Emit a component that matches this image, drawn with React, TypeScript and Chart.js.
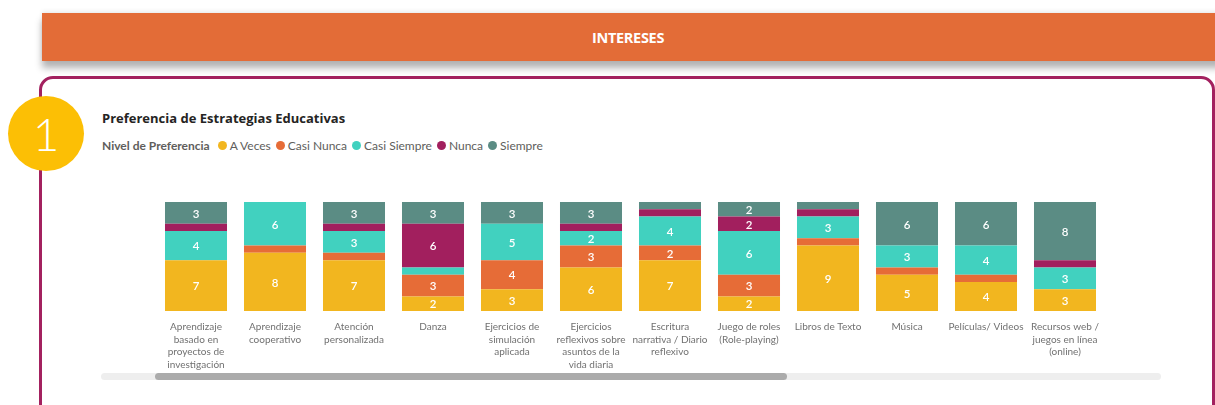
import React, { useEffect, useRef } from "react";
import { Chart, registerables } from "chart.js";

Chart.register(...registerables);

const categories: (string | string[])[] = [
  ["Aprendizaje", "basado en", "proyectos de", "investigación"],
  ["Aprendizaje", "cooperativo"],
  ["Atención", "personalizada"],
  "Danza",
  ["Ejercicios de", "simulación", "aplicada"],
  ["Ejercicios", "reflexivos sobre", "asuntos de la", "vida diaria"],
  ["Escritura", "narrativa / Diario", "reflexivo"],
  ["Juego de roles", "(Role-playing)"],
  "Libros de Texto",
  "Música",
  "Películas/ Videos",
  ["Recursos web /", "juegos en línea", "(online)"],
];

const aVeces = [7, 8, 7, 2, 3, 6, 7, 2, 9, 5, 4, 3];
const casiNunca = [0, 1, 1, 3, 4, 3, 2, 3, 1, 1, 1, 0];
const casiSiempre = [4, 6, 3, 1, 5, 2, 4, 6, 3, 3, 4, 3];
const nunca = [1, 0, 1, 6, 0, 1, 1, 2, 1, 0, 0, 1];
const siempre = [3, 0, 3, 3, 3, 3, 1, 2, 1, 6, 6, 8];

const seriesNames = ["A Veces", "Casi Nunca", "Casi Siempre", "Nunca", "Siempre"];
const seriesColors = ["#F2B61F", "#E66C37", "#41D1BF", "#A21F5E", "#5B8C84"];

const FONT = "'Segoe UI', Lato, 'Open Sans', sans-serif";

const labelPlugin = {
  id: "barLabels",
  afterDatasetsDraw(chart: any) {
    const ctx = chart.ctx;
    ctx.save();
    ctx.font = `600 11.5px ${FONT}`;
    ctx.fillStyle = "#FFFFFF";
    ctx.textAlign = "center";
    ctx.textBaseline = "middle";
    chart.data.datasets.forEach((ds: any, di: number) => {
      const meta = chart.getDatasetMeta(di);
      meta.data.forEach((el: any, i: number) => {
        const v = ds.data[i];
        if (v >= 2) {
          const y = (el.y + el.base) / 2;
          ctx.fillText(String(v), el.x, y + 1);
        }
      });
    });
    ctx.restore();
  },
};

export default function App() {
  const ref = useRef<HTMLCanvasElement>(null);

  useEffect(() => {
    if (!ref.current) return;
    const all = [aVeces, casiNunca, casiSiempre, nunca, siempre];
    const chart = new Chart(ref.current, {
      type: "bar",
      data: {
        labels: categories,
        datasets: all.map((d, i) => ({
          label: seriesNames[i],
          data: d,
          backgroundColor: seriesColors[i],
          borderWidth: 0,
          categoryPercentage: 1,
          barPercentage: 0.785,
        })),
      },
      options: {
        animation: false,
        responsive: true,
        maintainAspectRatio: false,
        layout: { padding: { left: 56.5, right: 55.5, top: 12, bottom: 19 } },
        plugins: {
          legend: { display: false },
          tooltip: { enabled: false },
        },
        scales: {
          x: {
            stacked: true,
            grid: { display: false, drawTicks: false },
            border: { display: false },
            ticks: {
              autoSkip: false,
              maxRotation: 0,
              minRotation: 0,
              padding: 10,
              color: "#717171",
              font: { size: 10, family: FONT, lineHeight: 1.25 },
            },
          },
          y: {
            stacked: true,
            display: false,
            min: 0,
            max: 15,
          },
        },
      },
      plugins: [labelPlugin],
    });
    return () => chart.destroy();
  }, []);

  const legendItems = seriesNames.map((n, i) => (
    <span key={n} style={{ display: "inline-flex", alignItems: "center", marginRight: 5 }}>
      <span
        style={{
          display: "inline-block",
          width: 9,
          height: 9,
          borderRadius: "50%",
          background: seriesColors[i],
          marginRight: 3,
        }}
      />
      <span>{n}</span>
    </span>
  ));

  return (
    <div
      style={{
        position: "absolute",
        left: 0,
        top: 0,
        width: 1215,
        height: 405,
        overflow: "hidden",
        background: "#FFFFFF",
        fontFamily: FONT,
      }}
    >
      {/* header band */}
      <div
        style={{
          position: "absolute",
          left: 42,
          top: 13,
          width: 1180,
          height: 48,
          background: "#E36C37",
          boxShadow: "0 7px 7px rgba(0,0,0,0.3), 0 -2px 4px rgba(0,0,0,0.08)",
          color: "#FFFFFF",
          fontWeight: 700,
          fontSize: 14.5,
          fontFamily: "'Open Sans', sans-serif",
          display: "flex",
          alignItems: "center",
          justifyContent: "center",
          paddingRight: 8,
          boxSizing: "border-box",
          letterSpacing: -0.3,
        }}
      >
        INTERESES
      </div>
      {/* frame */}
      <div
        style={{
          position: "absolute",
          left: 39,
          top: 76,
          width: 1176,
          height: 345,
          border: "3px solid #A3215F",
          borderRadius: 14,
          boxSizing: "border-box",
        }}
      />
      {/* number badge */}
      <div
        style={{
          position: "absolute",
          left: 8,
          top: 96,
          width: 76,
          height: 75,
          borderRadius: "50%",
          background: "#FCBF05",
          color: "#FFFFFF",
          fontSize: 46,
          fontWeight: 300,
          display: "flex",
          alignItems: "center",
          justifyContent: "center",
          fontFamily: "Lato, 'Open Sans', sans-serif",
        }}
      >
        1
      </div>
      {/* title */}
      <div
        style={{
          position: "absolute",
          left: 102,
          top: 109,
          fontSize: 13,
          fontWeight: 700,
          fontFamily: "'Open Sans', sans-serif",
          color: "#252423",
          whiteSpace: "nowrap",
        }}
      >
        Preferencia de Estrategias Educativas
      </div>
      {/* legend */}
      <div
        style={{
          position: "absolute",
          left: 102,
          top: 138,
          fontSize: 12,
          color: "#605E5C",
          whiteSpace: "nowrap",
          display: "flex",
          alignItems: "center",
        }}
      >
        <span style={{ fontWeight: 700, marginRight: 8 }}>Nivel de Preferencia</span>
        {legendItems}
      </div>
      {/* chart */}
      <div style={{ position: "absolute", left: 100, top: 190, width: 1060, height: 210 }}>
        <canvas ref={ref} />
      </div>
      {/* scrollbar */}
      <div
        style={{
          position: "absolute",
          left: 101,
          top: 373,
          width: 1060,
          height: 7,
          borderRadius: 4,
          background: "#EEEEEE",
        }}
      />
      <div
        style={{
          position: "absolute",
          left: 155,
          top: 373,
          width: 632,
          height: 7,
          borderRadius: 4,
          background: "#ABABAB",
        }}
      />
    </div>
  );
}
